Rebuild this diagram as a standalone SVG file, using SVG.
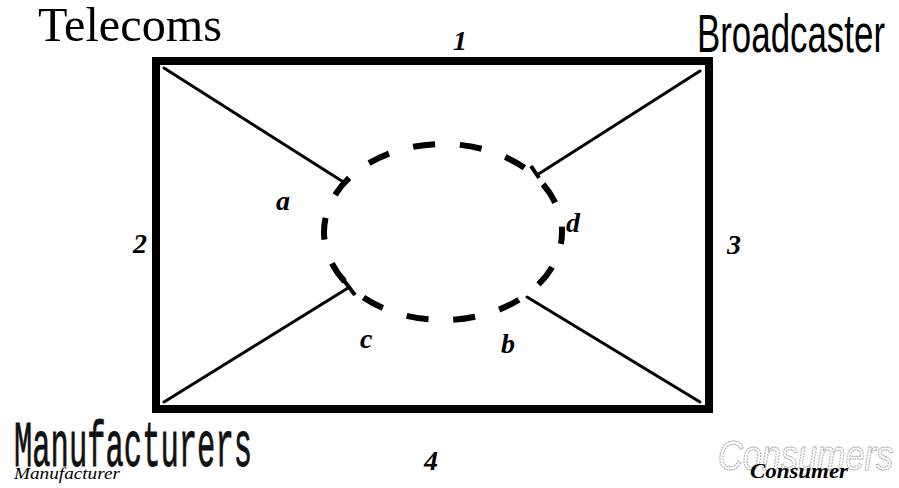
<svg xmlns="http://www.w3.org/2000/svg" width="899" height="488" viewBox="0 0 899 488">
<style>
.lbl{font-family:"Liberation Serif",serif;font-weight:bold;font-style:italic;font-size:28px;fill:#000}
.ln{stroke:#000;stroke-width:3;fill:none;stroke-linecap:round}
.tk{stroke:#000;stroke-width:4;fill:none}
</style>
<rect width="899" height="488" fill="#fff"/>
<g id="frame"><rect x="156" y="61" width="553" height="348" fill="none" stroke="#000" stroke-width="8"/></g>
<g id="core"><ellipse cx="443" cy="232" rx="119" ry="88" fill="none" stroke="#000" stroke-width="6" stroke-dasharray="22 25" stroke-dashoffset="10"/></g>
<g id="connectors">
<line class="ln" x1="164" y1="68" x2="345" y2="183"/>
<line class="ln" x1="700" y1="71" x2="537" y2="175"/>
<line class="tk" x1="531" y1="166" x2="539" y2="178"/>
<line class="ln" x1="164" y1="402" x2="348" y2="288"/>
<line class="tk" x1="342" y1="278" x2="355" y2="295"/>
<line class="ln" x1="700" y1="402" x2="527" y2="297"/>
</g>
<g id="telecoms"><text x="38" y="41" font-family="Liberation Serif,serif" font-size="48" textLength="184" lengthAdjust="spacingAndGlyphs">Telecoms</text></g>
<g id="broadcaster"><text x="697" y="52" font-family="Liberation Sans,sans-serif" font-size="54" textLength="188" lengthAdjust="spacingAndGlyphs">Broadcaster</text></g>
<g id="manufacturers">
<text x="14" y="466" font-family="Liberation Mono,monospace" font-size="64" textLength="238" lengthAdjust="spacingAndGlyphs" fill="#111" stroke="#111" stroke-width="0.8">Manufacturers</text>
<text x="14" y="479" font-family="Liberation Serif,serif" font-style="italic" font-size="17" textLength="106" lengthAdjust="spacingAndGlyphs">Manufacturer</text>
</g>
<g id="consumers">
<text x="718" y="470" font-family="Liberation Sans,sans-serif" font-style="italic" font-size="42" textLength="175" lengthAdjust="spacingAndGlyphs" fill="none" stroke="#999" stroke-width="1" stroke-dasharray="2 1">Consumers</text>
<text x="750" y="478" font-family="Liberation Serif,serif" font-weight="bold" font-style="italic" font-size="22" textLength="98" lengthAdjust="spacingAndGlyphs">Consumer</text>
</g>
<g id="labels">
<text class="lbl" x="453" y="50">1</text>
<text class="lbl" x="133" y="253">2</text>
<text class="lbl" x="727" y="254">3</text>
<text class="lbl" x="424" y="470">4</text>
<text class="lbl" x="276" y="210">a</text>
<text class="lbl" x="501" y="353">b</text>
<text class="lbl" x="360" y="348">c</text>
<text class="lbl" x="566" y="232">d</text>
</g>
</svg>
